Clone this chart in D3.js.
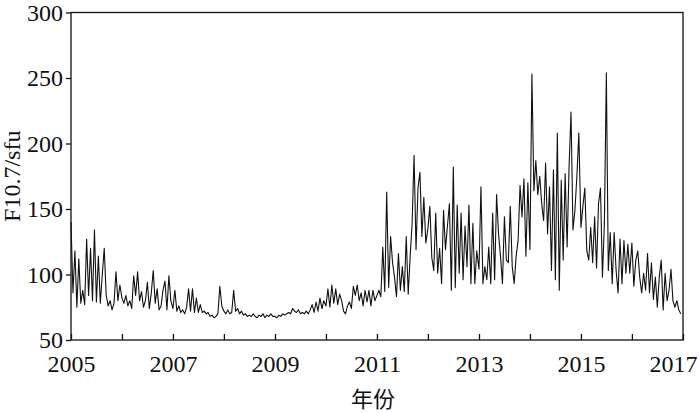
<!DOCTYPE html>
<html lang="zh">
<head>
<meta charset="UTF-8">
<title>F10.7 2005-2017</title>
<style>
    body { margin: 0; background: #fff; }
    svg { display: block; }
</style>
</head>
<body>
<svg id="chart" width="700" height="413"></svg>
<script src="https://d3js.org/d3.v7.min.js"></script>
<script>
// F10.7 values, one every 14 days from 1 Jan of each year
const years = [2005, 2006, 2007, 2008, 2009, 2010, 2011, 2012, 2013, 2014, 2015, 2016];
const f2005 = [140,86,118,75,112,78,88,77,127,84,120,80,134,79,114,78,100,120,84,76,80,73,78,102,80,92];
const f2006 = [82,78,84,76,80,74,99,84,102,80,87,75,80,94,74,86,103,78,89,73,76,88,95,73,99,80];
const f2007 = [74,88,72,76,71,73,70,75,89,72,89,71,82,71,77,71,72,70,71,68,69,67,68,70,91,76];
const f2008 = [72,70,73,70,71,88,72,74,70,72,69,70,68,69,68,70,68,67,69,68,70,67,69,68,70,68];
const f2009 = [68,67,69,68,70,69,70,71,70,74,72,71,73,70,71,70,72,70,73,77,71,79,72,82,74,80];
const f2010 = [76,89,75,92,78,89,77,85,80,72,70,76,79,74,91,84,92,80,86,76,88,79,88,76,88,80];
const f2011 = [84,88,83,121,87,163,90,129,109,98,83,116,88,106,87,129,85,114,139,191,119,166,178,129,159,124];
const f2012 = [135,152,113,103,147,101,120,93,149,119,137,154,88,182,90,153,101,147,96,137,106,153,93,139,93,118];
const f2013 = [104,167,93,106,96,121,93,147,96,161,131,114,93,144,111,109,152,106,93,114,126,168,144,173,114,170];
const f2014 = [119,253,164,187,161,175,154,141,185,131,167,103,180,96,208,88,172,111,177,121,182,224,134,149,175,208];
const f2015 = [136,152,166,118,111,136,109,144,105,154,166,98,139,254,103,132,93,132,103,86,127,93,126,101,123,101];
const f2016 = [124,91,111,118,98,86,101,88,116,86,109,81,98,75,98,111,73,101,80,88,104,80,75,80,73,70];
const seriesByYear = [f2005, f2006, f2007, f2008, f2009, f2010, f2011, f2012, f2013, f2014, f2015, f2016];

const yTicks = [50, 100, 150, 200, 250, 300];
const xLabelYears = [2005, 2007, 2009, 2011, 2013, 2015, 2017];
const yTitle = 'F10.7/sfu';
const xTitle = '年份';

const serif = '"Liberation Serif", "DejaVu Serif", serif';

const points = [];
years.forEach((yr, k) => {
    seriesByYear[k].forEach((v, i) => {
        points.push({date: d3.timeDay.offset(new Date(yr, 0, 1), i * 14), value: v});
    });
});

const margin = {top: 12.5, right: 17, bottom: 73, left: 71};
const svg = d3.select('#chart');
const width = 700 - margin.left - margin.right;
const height = 413 - margin.top - margin.bottom;

const g = svg.append('g').attr('transform', `translate(${margin.left},${margin.top})`);

const x = d3.scaleTime()
    .domain([new Date(2005, 0, 1), new Date(2017, 0, 1)])
    .range([0, width]);
const y = d3.scaleLinear()
    .domain([50, 300])
    .range([height, 0]);

// data line
const line = d3.line()
    .x(d => x(d.date))
    .y(d => y(d.value));

g.append('path')
    .datum(points)
    .attr('fill', 'none')
    .attr('stroke', '#111')
    .attr('stroke-width', 1.1)
    .attr('stroke-linejoin', 'round')
    .attr('d', line);

// frame
g.append('rect')
    .attr('width', width)
    .attr('height', height)
    .attr('fill', 'none')
    .attr('stroke', '#111')
    .attr('stroke-width', 1.3);

// x axis: ticks every year pointing inward, labels every 2 years
const xAxis = d3.axisBottom(x)
    .ticks(d3.timeYear.every(1))
    .tickSizeInner(-6)
    .tickSizeOuter(0)
    .tickFormat(d => xLabelYears.includes(d.getFullYear()) ? d.getFullYear() : '');

const gx = g.append('g')
    .attr('transform', `translate(0,${height})`)
    .call(xAxis)
    .attr('font-family', serif)
    .attr('font-size', 24);
gx.select('.domain').remove();
gx.selectAll('.tick line').attr('stroke', '#111').attr('stroke-width', 1.3);
gx.selectAll('.tick text')
    .attr('fill', '#111')
    .attr('y', 15)
    .attr('dy', '0.71em');
gx.selectAll('.tick text').filter(d => d.getFullYear() === 2017).attr('dx', -10);

// y axis: ticks pointing outward
const yAxis = d3.axisLeft(y)
    .tickValues(yTicks)
    .tickSizeInner(5)
    .tickSizeOuter(0)
    .tickPadding(3);

const gy = g.append('g')
    .call(yAxis)
    .attr('font-family', serif)
    .attr('font-size', 24);
gy.select('.domain').remove();
gy.selectAll('.tick line').attr('stroke', '#111').attr('stroke-width', 1.3);
gy.selectAll('.tick text').attr('fill', '#111');

// titles
svg.append('text')
    .attr('font-family', serif)
    .attr('font-size', 24)
    .attr('fill', '#111')
    .attr('text-anchor', 'middle')
    .attr('transform', `translate(20,${margin.top + height / 2}) rotate(-90)`)
    .text(yTitle);

svg.append('text')
    .attr('font-family', '"Noto Sans CJK SC", sans-serif')
    .attr('font-size', 22)
    .attr('fill', '#111')
    .attr('text-anchor', 'middle')
    .attr('x', margin.left + width / 2 - 4)
    .attr('y', 407)
    .text(xTitle);
</script>
</body>
</html>
